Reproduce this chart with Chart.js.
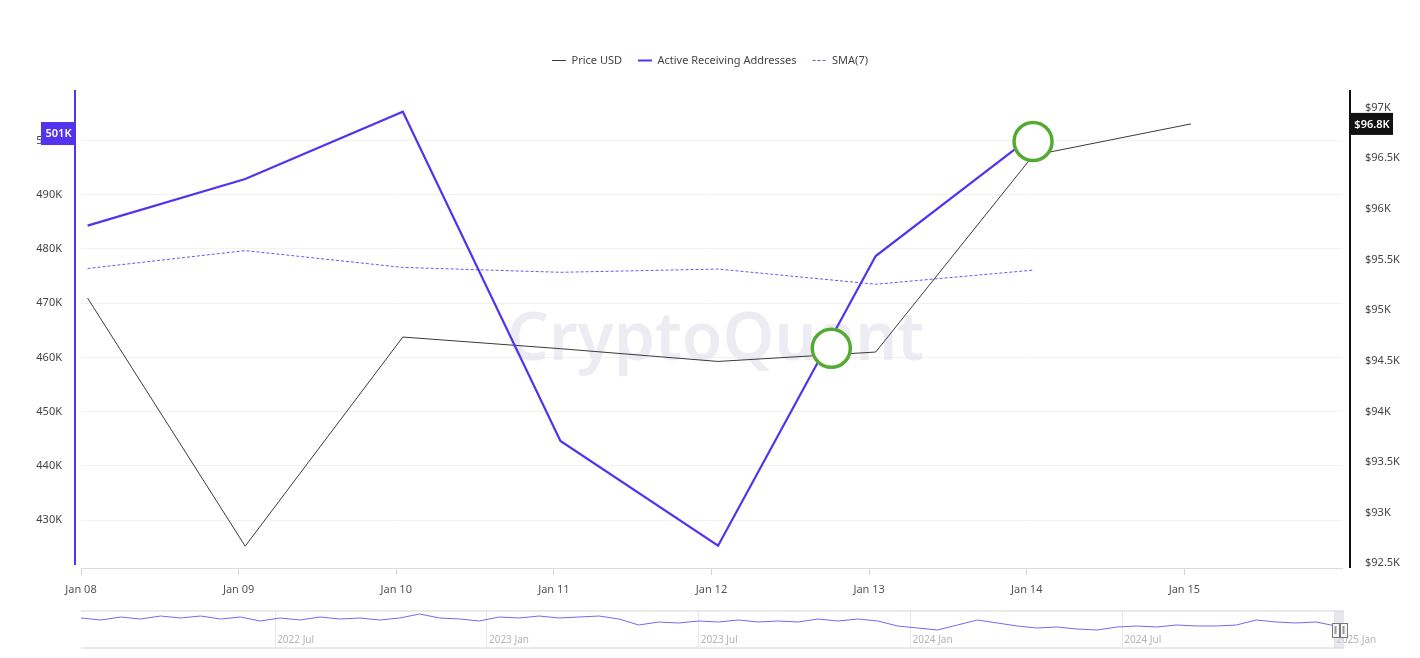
<!DOCTYPE html>
<html>
<head>
<meta charset="utf-8">
<title>Active Receiving Addresses vs Price</title>
<script src="https://cdn.jsdelivr.net/npm/chart.js@4.4.1/dist/chart.umd.min.js"></script>
<style>
  body { margin: 0; background: #fff; }
  canvas { display: block; }
</style>
</head>
<body>
<canvas id="mainChart" width="1420" height="600"></canvas>
<canvas id="navChart" width="1420" height="58"></canvas>
<script>
// Nhãn trục x (mỗi ngày)
const dayLabels = ['Jan 08', 'Jan 09', 'Jan 10', 'Jan 11', 'Jan 12', 'Jan 13', 'Jan 14', 'Jan 15'];
// Giá BTC (USD)
const priceUsd = [95120, 92670, 94735, 94620, 94494, 94587, 96530, 96840];
// Số địa chỉ nhận đang hoạt động
const activeAddresses = [484300, 492900, 505300, 444600, 425300, 478700, 501000];
// Trung bình động 7 ngày
const sma7 = [476400, 479700, 476600, 475700, 476300, 473500, 476100];
// Vạch chia trục y
const leftTicks = [430000, 440000, 450000, 460000, 470000, 480000, 490000, 500000];
const rightTicks = [92500, 93000, 93500, 94000, 94500, 95000, 95500, 96000, 96500, 97000];
// Vòng tròn đánh dấu (ngày, giá trị)
const markerDays = [4.76, 6.04];
const markerValues = [461700, 499800];
// Dữ liệu thanh điều hướng (nghìn địa chỉ, 2022-01 .. 2025-01)
const navValues = [520, 500, 530, 510, 540, 520, 540, 510, 530, 490, 520, 500, 530, 510, 520, 500,
  520, 560, 520, 510, 490, 530, 520, 540, 520, 530, 540, 510, 450, 480, 470, 490,
  480, 500, 480, 490, 480, 510, 490, 510, 490, 440, 420, 400, 450, 500, 470, 440,
  420, 430, 410, 400, 430, 440, 430, 450, 440, 440, 450, 500, 480, 470, 480, 440];
const navTickMonths = [6, 12, 18, 24, 30, 36];
const navTickLabels = ['2022 Jul', '2023 Jan', '2023 Jul', '2024 Jan', '2024 Jul', '2025 Jan'];

const purple = '#5333ee';
const stampOffset = 1 / 24; // số liệu được ghi lúc 01:00 giờ địa phương

Chart.defaults.font.family = '"Noto Sans", sans-serif';
Chart.defaults.font.size = 11;
Chart.defaults.color = '#444';

const toPoints = (arr) => arr.map((v, i) => ({ x: i + stampOffset, y: v }));

// Chữ chìm + đường trục + nhãn giá trị cuối
const decor = {
  id: 'decor',
  beforeDatasetsDraw(chart) {
    const { ctx, chartArea } = chart;
    ctx.save();
    ctx.font = '600 66px "Noto Sans", sans-serif';
    ctx.fillStyle = 'rgba(224, 224, 234, 0.6)';
    ctx.textAlign = 'center';
    ctx.textBaseline = 'middle';
    ctx.fillText('CryptoQuant', (chartArea.left + chartArea.right) / 2 + 4, (chartArea.top + chartArea.bottom) / 2 + 12);
    ctx.restore();
  },
  afterDraw(chart) {
    const { ctx, chartArea, scales } = chart;
    ctx.save();
    ctx.lineWidth = 2;
    ctx.strokeStyle = purple;
    ctx.beginPath();
    ctx.moveTo(chartArea.left - 6, chartArea.top);
    ctx.lineTo(chartArea.left - 6, chartArea.bottom - 3);
    ctx.stroke();
    ctx.strokeStyle = '#111';
    ctx.beginPath();
    ctx.moveTo(chartArea.right + 8, chartArea.top);
    ctx.lineTo(chartArea.right + 8, chartArea.bottom);
    ctx.stroke();

    ctx.font = '600 11px "Noto Sans", sans-serif';
    ctx.textBaseline = 'middle';
    ctx.textAlign = 'center';
    const lastActive = activeAddresses[activeAddresses.length - 1];
    const yl = scales.yLeft.getPixelForValue(lastActive) - 2;
    ctx.fillStyle = purple;
    ctx.fillRect(chartArea.left - 40, yl - 11, 35, 23);
    ctx.fillStyle = '#fff';
    ctx.fillText(Math.round(lastActive / 1000) + 'K', chartArea.left - 22.5, yl + 1);

    const lastPrice = priceUsd[priceUsd.length - 1];
    const yr = scales.yRight.getPixelForValue(lastPrice);
    ctx.fillStyle = '#111';
    ctx.fillRect(chartArea.right + 9, yr - 11, 42, 22);
    ctx.fillStyle = '#fff';
    ctx.fillText('$' + (Math.floor(lastPrice / 100) / 10).toFixed(1) + 'K', chartArea.right + 30, yr + 1);
    ctx.restore();
  }
};

const mainData = {
  datasets: [{
    label: 'Price USD',
    data: toPoints(priceUsd),
    yAxisID: 'yRight',
    borderColor: '#3a3a3a',
    borderWidth: 1,
    pointRadius: 0,
    tension: 0,
    order: 3
  }, {
    label: 'Active Receiving Addresses',
    data: toPoints(activeAddresses),
    yAxisID: 'yLeft',
    borderColor: purple,
    borderWidth: 2.2,
    pointRadius: 0,
    tension: 0,
    order: 1
  }, {
    label: 'SMA(7)',
    data: toPoints(sma7),
    yAxisID: 'yLeft',
    borderColor: '#6d55f2',
    borderWidth: 1,
    borderDash: [3, 2],
    pointRadius: 0,
    tension: 0,
    order: 2
  }, {
    label: 'markers',
    data: markerDays.map((d, i) => ({ x: d, y: markerValues[i] })),
    yAxisID: 'yLeft',
    showLine: false,
    pointRadius: 19,
    pointBorderWidth: 3.5,
    pointBorderColor: '#56aa32',
    pointBackgroundColor: '#fff',
    order: 0
  }]
};

// Chú thích theo thứ tự dataset, nét giống đường vẽ
const legendItems = (chart) => chart.data.datasets.slice(0, 3).map((ds, i) => ({
  text: ds.label,
  datasetIndex: i,
  strokeStyle: ds.borderColor,
  fillStyle: ds.borderColor,
  lineWidth: Math.min(ds.borderWidth, 2),
  lineDash: ds.borderDash || [],
  pointStyle: 'line',
  fontColor: '#444',
  hidden: false
}));

const mainConfig = {
  type: 'line',
  data: mainData,
  options: {
    responsive: false,
    animation: false,
    layout: { padding: { top: 39, left: 0, right: 0, bottom: 0 } },
    plugins: {
      tooltip: { enabled: false },
      legend: {
        position: 'top',
        labels: {
          usePointStyle: true,
          pointStyle: 'line',
          pointStyleWidth: 14,
          padding: 16,
          color: '#444',
          generateLabels: legendItems
        }
      }
    },
    scales: {
      spacer: {
        type: 'linear',
        position: 'top',
        ticks: { display: false },
        grid: { display: false },
        border: { display: false },
        afterFit: (s) => { s.height = 14; }
      },
      x: {
        type: 'linear',
        min: 0,
        max: 8,
        afterBuildTicks: (s) => { s.ticks = dayLabels.map((_, i) => ({ value: i })); },
        ticks: {
          callback: (v) => dayLabels[v],
          autoSkip: false,
          maxRotation: 0,
          padding: 8,
          color: '#555'
        },
        grid: { drawOnChartArea: false, drawTicks: true, tickLength: 7, color: '#d6d6d6' },
        border: { display: true, color: '#dcdcdc' },
        afterFit: (s) => { s.height = 32; }
      },
      yLeft: {
        position: 'left',
        min: 421200,
        max: 509300,
        afterBuildTicks: (s) => { s.ticks = leftTicks.map((v) => ({ value: v })); },
        ticks: {
          callback: (v) => (v / 1000) + 'K',
          padding: 19,
          color: '#444'
        },
        grid: { color: '#f2f2f2', drawTicks: false },
        border: { display: false },
        afterFit: (s) => { s.width = 81; }
      },
      yRight: {
        position: 'right',
        min: 92454,
        max: 97175,
        afterBuildTicks: (s) => { s.ticks = rightTicks.map((v) => ({ value: v })); },
        ticks: {
          callback: (v) => '$' + (v / 1000) + 'K',
          padding: 23,
          color: '#444'
        },
        grid: { drawOnChartArea: false, drawTicks: false },
        border: { display: false },
        afterFit: (s) => { s.width = 78; }
      }
    }
  },
  plugins: [decor]
};

// Thanh điều hướng phía dưới
const navStart = 0.5, navEnd = 36.05;
const navPoints = navValues.map((v, i) => ({ x: navStart + i * (navEnd - navStart) / (navValues.length - 1), y: v }));

const navDecor = {
  id: 'navDecor',
  afterDatasetsDraw(chart) {
    const { ctx, chartArea, scales } = chart;
    ctx.save();
    ctx.strokeStyle = '#e4e4e8';
    ctx.lineWidth = 1.5;
    ctx.beginPath();
    ctx.moveTo(chartArea.left, chartArea.top);
    ctx.lineTo(chartArea.right + 1, chartArea.top);
    ctx.moveTo(chartArea.left, chartArea.bottom);
    ctx.lineTo(chartArea.right + 1, chartArea.bottom);
    ctx.stroke();

    ctx.font = '10px "Noto Sans", sans-serif';
    ctx.fillStyle = '#b4b4b4';
    ctx.textBaseline = 'middle';
    navTickMonths.forEach((m, i) => {
      ctx.fillText(navTickLabels[i], scales.x.getPixelForValue(m) + 2, chartArea.bottom - 8);
    });

    // vùng đang chọn
    ctx.fillStyle = 'rgba(215, 215, 225, 0.6)';
    ctx.fillRect(chartArea.right - 9, chartArea.top, 10, chartArea.bottom - chartArea.top);
    [chartArea.right - 11, chartArea.right - 3].forEach((hx) => {
      ctx.fillStyle = '#f6f6f6';
      ctx.strokeStyle = '#777';
      ctx.lineWidth = 1;
      ctx.fillRect(hx, chartArea.top + 12, 7, 14);
      ctx.strokeRect(hx + 0.5, chartArea.top + 12.5, 7, 14);
      ctx.fillStyle = '#999';
      ctx.fillRect(hx + 2.5, chartArea.top + 15, 2, 8);
    });
    ctx.restore();
  }
};

const navConfig = {
  type: 'line',
  data: {
    datasets: [{
      data: navPoints,
      borderColor: '#7a66f2',
      borderWidth: 1,
      pointRadius: 0,
      tension: 0
    }]
  },
  options: {
    responsive: false,
    animation: false,
    layout: { padding: { top: 11, left: 81, right: 77, bottom: 10 } },
    plugins: { legend: { display: false }, tooltip: { enabled: false } },
    scales: {
      x: {
        type: 'linear',
        min: 0.5,
        max: 36.25,
        afterBuildTicks: (s) => { s.ticks = navTickMonths.map((m) => ({ value: m })); },
        ticks: { display: false },
        grid: { color: '#e8e8ea', drawTicks: false },
        border: { display: false },
        afterFit: (s) => { s.height = 0; }
      },
      y: { display: false, min: 220, max: 590 }
    }
  },
  plugins: [navDecor]
};

const mainChart = new Chart(document.getElementById('mainChart'), mainConfig);
const navChart = new Chart(document.getElementById('navChart'), navConfig);
</script>
</body>
</html>
